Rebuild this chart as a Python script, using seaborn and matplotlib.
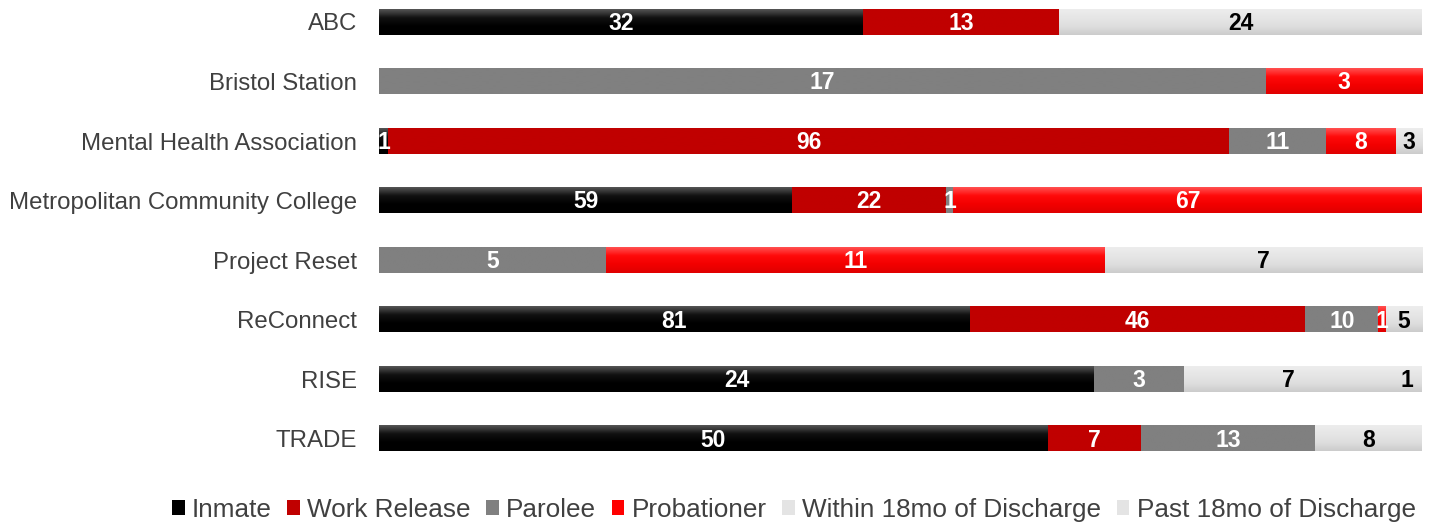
import numpy as np
import pandas as pd
import matplotlib
matplotlib.use('Agg')
import matplotlib.pyplot as plt
import seaborn as sns
from matplotlib.colors import LinearSegmentedColormap
from matplotlib.patches import Patch

# categories / series
programs = ['ABC', 'Bristol Station', 'Mental Health Association',
            'Metropolitan Community College', 'Project Reset', 'ReConnect',
            'RISE', 'TRADE']
series = ['Inmate', 'Work Release', 'Parolee', 'Probationer',
          'Within 18mo of Discharge', 'Past 18mo of Discharge']

# counts per program
inmate = [32, 0, 1, 59, 0, 81, 24, 50]
work_release = [13, 0, 96, 22, 0, 46, 0, 7]
parolee = [0, 17, 11, 1, 5, 10, 3, 13]
probationer = [0, 3, 8, 67, 11, 1, 0, 0]
within_18mo = [24, 0, 3, 0, 7, 5, 7, 8]
past_18mo = [0, 0, 0, 0, 0, 0, 1, 0]

# top -> bottom colours for each series (vertical gradients)
grad_colors = {
    'Inmate': ['#555555', '#111111', '#000000', '#000000'],
    'Work Release': ['#C00000', '#C00000'],
    'Parolee': ['#808080', '#808080'],
    'Probationer': ['#FF5050', '#FF0a0a', '#F20000', '#E00000'],
    'Within 18mo of Discharge': ['#EDEDED', '#E6E6E6', '#DEDEDE', '#CCCCCC'],
    'Past 18mo of Discharge': ['#EDEDED', '#E6E6E6', '#DEDEDE', '#CCCCCC'],
}
legend_colors = ['#000000', '#C00000', '#808080', '#FF0000', '#E4E4E4', '#E4E4E4']
label_colors = ['white', 'white', 'white', 'white', 'black', 'black']

df = pd.DataFrame({'Program': programs, 'Inmate': inmate,
                   'Work Release': work_release, 'Parolee': parolee,
                   'Probationer': probationer,
                   'Within 18mo of Discharge': within_18mo,
                   'Past 18mo of Discharge': past_18mo})
total = df[series].sum(axis=1)
share = df[series].div(total, axis=0)
cum = share.cumsum(axis=1)

plt.rcParams['font.family'] = ['Liberation Sans', 'DejaVu Sans']

fig = plt.figure(figsize=(14.31, 5.25), dpi=100)
ax = fig.add_axes([379 / 1431, 1 - 470 / 525, (1422 - 379) / 1431, 470 / 525])

bar_h = 0.42
# stacked bars by overlaying cumulative sums (largest first)
for s in reversed(series):
    plot_df = pd.DataFrame({'Program': programs, 'x': cum[s].values})
    sns.barplot(data=plot_df, x='x', y='Program', orient='h', color=grad_colors[s][0],
                width=bar_h, ax=ax, saturation=1, linewidth=0, zorder=1)

# gradient fill + value labels
grad = np.linspace(0, 1, 64).reshape(-1, 1)
for i, prog in enumerate(programs):
    for k, s in enumerate(series):
        v = df.loc[i, s]
        if v == 0:
            continue
        right = cum.loc[i, s]
        left = right - share.loc[i, s]
        cmap = LinearSegmentedColormap.from_list(s, grad_colors[s])
        ax.imshow(grad, extent=[left, right, i + bar_h / 2, i - bar_h / 2],
                  aspect='auto', cmap=cmap, vmin=0, vmax=1, zorder=2,
                  interpolation='bilinear')
        ax.text((left + right) / 2, i + 0.02, str(v), ha='center', va='center',
                color=label_colors[k], fontsize=16.5, fontweight='bold', zorder=3)

ax.set_xlim(0, 1)
ax.set_ylim((470 - 22) / 59.57, -22 / 59.57)
ax.set_yticks(range(len(programs)))
ax.set_yticklabels(programs)
ax.tick_params(axis='y', length=0, pad=16, labelsize=17.3, labelcolor='#404040')
ax.set_xticks([])
ax.set_xlabel('')
ax.set_ylabel('')
for sp in ax.spines.values():
    sp.set_visible(False)

handles = [Patch(facecolor=c, edgecolor='none') for c in legend_colors]
fig.legend(handles, series, loc='center left', bbox_to_anchor=(172 / 1431, 15 / 525),
           ncol=6, frameon=False, fontsize=18.8, handlelength=0.48, handleheight=0.48,
           handletextpad=0.28, columnspacing=0.6, labelcolor='#404040',
           borderaxespad=0, borderpad=0)

fig.savefig('out.png', dpi=100)
